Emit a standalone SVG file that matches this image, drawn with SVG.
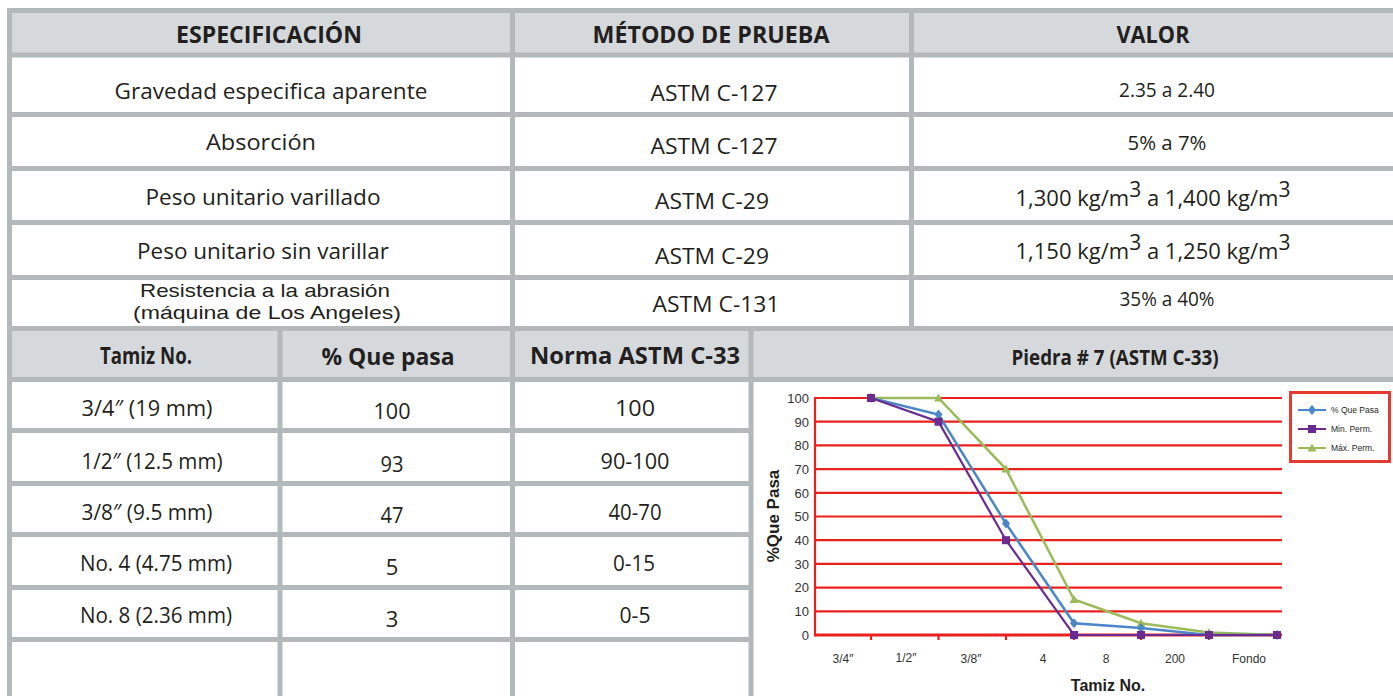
<svg xmlns="http://www.w3.org/2000/svg" width="1393" height="696" viewBox="0 0 1393 696">
<style>
.bg{fill:#ffffff}
.hd{fill:#d5d9dc}
.gl{stroke:#b3b8bb;stroke-width:5;fill:none}
.th{font-family:"Open Sans","Liberation Sans",sans-serif;font-weight:bold;font-size:23px;fill:#231f20;text-anchor:middle}
.td{font-family:"Open Sans","Liberation Sans",sans-serif;font-size:22px;fill:#231f20;text-anchor:middle}
.sup{font-size:21px}
.grid{stroke:#e8211f;stroke-width:2.2}
.yl{font-family:"Liberation Sans",Arial,sans-serif;font-size:13px;fill:#333;text-anchor:end}
.xl{font-family:"Liberation Sans",Arial,sans-serif;font-size:12px;fill:#333;text-anchor:middle}
.at{font-family:"Liberation Sans",Arial,sans-serif;font-size:16px;font-weight:bold;fill:#231f20;text-anchor:middle}
.lg{font-family:"Liberation Sans",Arial,sans-serif;font-size:8.5px;fill:#231f20}
.sb{stroke:#4a86c8;stroke-width:2.5;fill:none}
.sp{stroke:#6a2c91;stroke-width:2.2;fill:none}
.sg{stroke:#9bbb59;stroke-width:2.5;fill:none}
</style>
<defs>
<g id="mDia"><path d="M0,-5 L4,0 L0,5 L-4,0 Z" fill="#4a86c8"/></g>
<g id="mSq"><rect x="-4" y="-4" width="8" height="8" fill="#6a2c91"/></g>
<g id="mTri"><path d="M0,-4.5 L4.5,3.5 L-4.5,3.5 Z" fill="#9bbb59"/></g>
</defs>
<rect class="bg" x="0" y="0" width="1393" height="696"/>

<g id="table-fills">
<rect class="hd" x="9" y="12" width="1384" height="43"/>
<rect class="hd" x="9" y="329" width="1384" height="50"/>
</g>

<g id="table-grid">
<line class="gl" x1="7" y1="10.5" x2="1393" y2="10.5"/>
<line class="gl" x1="9.5" y1="8" x2="9.5" y2="696"/>
<line class="gl" x1="7" y1="55" x2="1393" y2="55"/>
<line class="gl" x1="7" y1="114.5" x2="1393" y2="114.5"/>
<line class="gl" x1="7" y1="168.5" x2="1393" y2="168.5"/>
<line class="gl" x1="7" y1="222.5" x2="1393" y2="222.5"/>
<line class="gl" x1="7" y1="277.5" x2="1393" y2="277.5"/>
<line class="gl" x1="7" y1="328.5" x2="1393" y2="328.5"/>
<line class="gl" x1="7" y1="379.5" x2="1393" y2="379.5"/>
<line class="gl" x1="7" y1="430.5" x2="751" y2="430.5"/>
<line class="gl" x1="7" y1="483.5" x2="751" y2="483.5"/>
<line class="gl" x1="7" y1="534.5" x2="751" y2="534.5"/>
<line class="gl" x1="7" y1="587.5" x2="751" y2="587.5"/>
<line class="gl" x1="7" y1="639.5" x2="751" y2="639.5"/>
<line class="gl" x1="512.5" y1="8" x2="512.5" y2="696"/>
<line class="gl" x1="911.5" y1="8" x2="911.5" y2="331"/>
<line class="gl" x1="280" y1="326" x2="280" y2="696"/>
<line class="gl" x1="751" y1="326" x2="751" y2="696"/>
</g>

<g id="header-especificacion"><text class="th" x="269" y="43" textLength="186" lengthAdjust="spacingAndGlyphs">ESPECIFICACIÓN</text></g>
<g id="header-metodo"><text class="th" x="711" y="43" textLength="237" lengthAdjust="spacingAndGlyphs">MÉTODO DE PRUEBA</text></g>
<g id="header-valor"><text class="th" x="1153" y="43" textLength="73" lengthAdjust="spacingAndGlyphs">VALOR</text></g>

<g id="row-gravedad">
<text class="td" x="271" y="99" textLength="313" lengthAdjust="spacingAndGlyphs">Gravedad especifica aparente</text>
<text class="td" x="714" y="101" textLength="127" lengthAdjust="spacingAndGlyphs">ASTM C-127</text>
<text class="td" x="1167" y="97" style="font-size:20px" textLength="96" lengthAdjust="spacingAndGlyphs">2.35 a 2.40</text>
</g>
<g id="row-absorcion">
<text class="td" x="261" y="150" textLength="110" lengthAdjust="spacingAndGlyphs">Absorción</text>
<text class="td" x="714" y="154" textLength="127" lengthAdjust="spacingAndGlyphs">ASTM C-127</text>
<text class="td" x="1167" y="150" style="font-size:20px" textLength="79" lengthAdjust="spacingAndGlyphs">5% a 7%</text>
</g>
<g id="row-peso-varillado">
<text class="td" x="263" y="205" textLength="235" lengthAdjust="spacingAndGlyphs">Peso unitario varillado</text>
<text class="td" x="712" y="209" textLength="114" lengthAdjust="spacingAndGlyphs">ASTM C-29</text>
<text class="td" x="1153" y="206" style="font-size:22px">1,300 kg/m<tspan class="sup" dy="-9">3</tspan><tspan dy="9"> a 1,400 kg/m</tspan><tspan class="sup" dy="-9">3</tspan></text>
</g>
<g id="row-peso-sin">
<text class="td" x="263" y="259" textLength="252" lengthAdjust="spacingAndGlyphs">Peso unitario sin varillar</text>
<text class="td" x="712" y="264" textLength="114" lengthAdjust="spacingAndGlyphs">ASTM C-29</text>
<text class="td" x="1153" y="259" style="font-size:22px">1,150 kg/m<tspan class="sup" dy="-9">3</tspan><tspan dy="9"> a 1,250 kg/m</tspan><tspan class="sup" dy="-9">3</tspan></text>
</g>
<g id="row-abrasion">
<text class="td" style="font-family:'Liberation Sans',Arial,sans-serif;font-size:19px"><tspan x="265" y="296.5" textLength="250" lengthAdjust="spacingAndGlyphs">Resistencia a la abrasión</tspan><tspan x="267" y="318.5" textLength="268" lengthAdjust="spacingAndGlyphs">(máquina de Los Angeles)</tspan></text>
<text class="td" x="716" y="312" textLength="127" lengthAdjust="spacingAndGlyphs">ASTM C-131</text>
<text class="td" x="1167" y="306" style="font-size:20px" textLength="95" lengthAdjust="spacingAndGlyphs">35% a 40%</text>
</g>

<g id="header-tamiz"><text class="th" x="146" y="364" textLength="92" lengthAdjust="spacingAndGlyphs">Tamiz No.</text></g>
<g id="header-pasa"><text class="th" x="388" y="365" textLength="133" lengthAdjust="spacingAndGlyphs">% Que pasa</text></g>
<g id="header-norma"><text class="th" x="635" y="364" textLength="210" lengthAdjust="spacingAndGlyphs">Norma ASTM C-33</text></g>
<g id="header-piedra"><text class="th" x="1115" y="365" style="font-size:21px" textLength="207" lengthAdjust="spacingAndGlyphs">Piedra # 7 (ASTM C-33)</text></g>

<g id="row-34">
<text class="td" x="147" y="416" textLength="131" lengthAdjust="spacingAndGlyphs">3/4″  (19 mm)</text>
<text class="td" x="392" y="419" textLength="37" lengthAdjust="spacingAndGlyphs">100</text>
<text class="td" x="635" y="416" textLength="40" lengthAdjust="spacingAndGlyphs">100</text>
</g>
<g id="row-12">
<text class="td" x="152" y="469" textLength="141" lengthAdjust="spacingAndGlyphs">1/2″  (12.5 mm)</text>
<text class="td" x="392" y="472" textLength="23" lengthAdjust="spacingAndGlyphs">93</text>
<text class="td" x="635" y="469" textLength="69" lengthAdjust="spacingAndGlyphs">90-100</text>
</g>
<g id="row-38">
<text class="td" x="147" y="520" textLength="131" lengthAdjust="spacingAndGlyphs">3/8″  (9.5 mm)</text>
<text class="td" x="392" y="523" textLength="23" lengthAdjust="spacingAndGlyphs">47</text>
<text class="td" x="635" y="520" textLength="53" lengthAdjust="spacingAndGlyphs">40-70</text>
</g>
<g id="row-no4">
<text class="td" x="156" y="571" textLength="152" lengthAdjust="spacingAndGlyphs">No. 4 (4.75 mm)</text>
<text class="td" x="392" y="575">5</text>
<text class="td" x="634" y="571" textLength="42" lengthAdjust="spacingAndGlyphs">0-15</text>
</g>
<g id="row-no8">
<text class="td" x="156" y="623" textLength="152" lengthAdjust="spacingAndGlyphs">No. 8 (2.36 mm)</text>
<text class="td" x="392" y="627">3</text>
<text class="td" x="635" y="623" textLength="31" lengthAdjust="spacingAndGlyphs">0-5</text>
</g>

<g id="chart">
<g id="gridlines">
<line class="grid" x1="815" y1="398" x2="1282" y2="398"/>
<line class="grid" x1="815" y1="421.7" x2="1282" y2="421.7"/>
<line class="grid" x1="815" y1="445.4" x2="1282" y2="445.4"/>
<line class="grid" x1="815" y1="469.1" x2="1282" y2="469.1"/>
<line class="grid" x1="815" y1="492.8" x2="1282" y2="492.8"/>
<line class="grid" x1="815" y1="516.5" x2="1282" y2="516.5"/>
<line class="grid" x1="815" y1="540.2" x2="1282" y2="540.2"/>
<line class="grid" x1="815" y1="563.9" x2="1282" y2="563.9"/>
<line class="grid" x1="815" y1="587.6" x2="1282" y2="587.6"/>
<line class="grid" x1="815" y1="611.3" x2="1282" y2="611.3"/>
<line class="grid" x1="815" y1="635" x2="1282" y2="635" style="stroke-width:3"/>
<line class="grid" x1="815" y1="397" x2="815" y2="636.5"/>
<line class="grid" x1="871" y1="635" x2="871" y2="640"/>
<line class="grid" x1="938.5" y1="635" x2="938.5" y2="640"/>
<line class="grid" x1="1006" y1="635" x2="1006" y2="640"/>
<line class="grid" x1="1074" y1="635" x2="1074" y2="640"/>
<line class="grid" x1="1141" y1="635" x2="1141" y2="640"/>
<line class="grid" x1="1209" y1="635" x2="1209" y2="640"/>
</g>
<g id="y-labels">
<text class="yl" x="809" y="403">100</text>
<text class="yl" x="809" y="426.5">90</text>
<text class="yl" x="809" y="450">80</text>
<text class="yl" x="809" y="474">70</text>
<text class="yl" x="809" y="497.5">60</text>
<text class="yl" x="809" y="521">50</text>
<text class="yl" x="809" y="545">40</text>
<text class="yl" x="809" y="568.5">30</text>
<text class="yl" x="809" y="592">20</text>
<text class="yl" x="809" y="616">10</text>
<text class="yl" x="809" y="639.5">0</text>
</g>
<g id="x-labels">
<text class="xl" x="843" y="663">3/4″</text>
<text class="xl" x="906" y="662">1/2″</text>
<text class="xl" x="971" y="663">3/8″</text>
<text class="xl" x="1043" y="663">4</text>
<text class="xl" x="1106" y="663">8</text>
<text class="xl" x="1175" y="663">200</text>
<text class="xl" x="1249" y="663">Fondo</text>
</g>
<text class="at" x="1108" y="691">Tamiz No.</text>
<text class="at" x="0" y="0" style="font-size:17px" transform="translate(779,516) rotate(-90)">%Que Pasa</text>

<g id="connectors">
<polyline class="sg" points="871,398 938.5,398 1006,469.1 1074,599.5 1141,623.2 1209,632.6 1277,635"/>
<polyline class="sb" points="871,398 938.5,414.6 1006,523.6 1074,623.2 1141,627.9 1209,635 1277,635"/>
<polyline class="sp" points="871,398 938.5,421.7 1006,540.2 1074,635 1141,635 1209,635 1277,635"/>
</g>
<g id="markers">
<use href="#mTri" x="871" y="398"/><use href="#mTri" x="938.5" y="398"/><use href="#mTri" x="1006" y="469.1"/><use href="#mTri" x="1074" y="599.5"/><use href="#mTri" x="1141" y="623.2"/><use href="#mTri" x="1209" y="632.6"/><use href="#mTri" x="1277" y="635"/>
<use href="#mDia" x="871" y="398"/><use href="#mDia" x="938.5" y="414.6"/><use href="#mDia" x="1006" y="523.6"/><use href="#mDia" x="1074" y="623.2"/><use href="#mDia" x="1141" y="627.9"/><use href="#mDia" x="1209" y="635"/><use href="#mDia" x="1277" y="635"/>
<use href="#mSq" x="871" y="398"/><use href="#mSq" x="938.5" y="421.7"/><use href="#mSq" x="1006" y="540.2"/><use href="#mSq" x="1074" y="635"/><use href="#mSq" x="1141" y="635"/><use href="#mSq" x="1209" y="635"/><use href="#mSq" x="1277" y="635"/>
</g>

<g id="legend">
<rect x="1290.5" y="392.5" width="99" height="69" fill="#ffffff" stroke="#e53a2f" stroke-width="3"/>
<line x1="1298" y1="410" x2="1326" y2="410" class="sb" style="stroke-width:2"/>
<use href="#mDia" x="1312" y="410"/>
<text class="lg" x="1331" y="413">% Que Pasa</text>
<line x1="1298" y1="429" x2="1326" y2="429" class="sp" style="stroke-width:2"/>
<use href="#mSq" x="1312" y="429"/>
<text class="lg" x="1331" y="432">Min. Perm.</text>
<line x1="1298" y1="448" x2="1326" y2="448" class="sg" style="stroke-width:2"/>
<use href="#mTri" x="1312" y="448"/>
<text class="lg" x="1331" y="451">Máx. Perm.</text>
</g>
</g>
</svg>
